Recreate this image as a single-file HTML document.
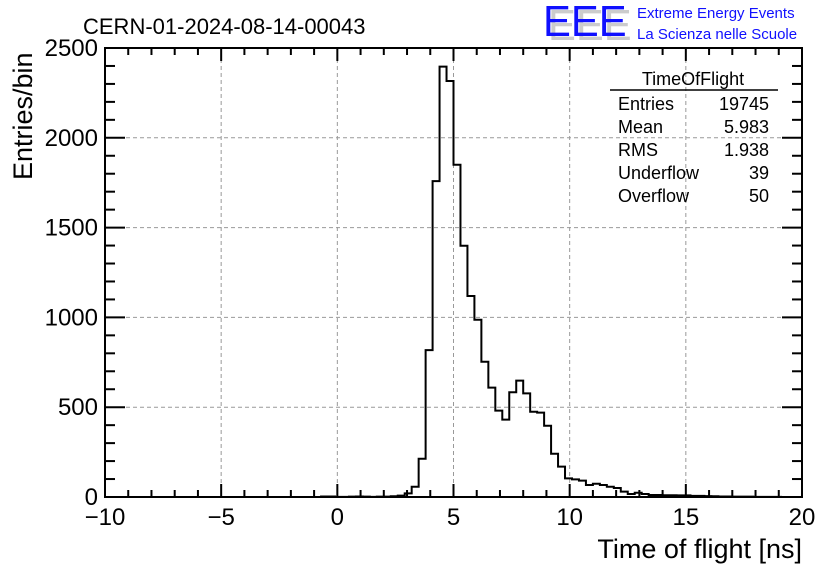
<!DOCTYPE html>
<html><head><meta charset="utf-8"><style>
body{margin:0;background:#fff}
svg{display:block;font-family:"Liberation Sans",sans-serif}
</style></head><body>
<svg id="c" width="836" height="572" xmlns="http://www.w3.org/2000/svg">
<rect width="836" height="572" fill="#fff"/>
<text x="83" y="34" font-size="22">CERN-01-2024-08-14-00043</text>
<g>
<text x="548" y="40" font-size="44" fill="#ccc" transform="translate(548,0) scale(0.95,1) translate(-548,0)">EEE</text>
<text x="543" y="36" font-size="44" fill="#1010ff" transform="translate(543,0) scale(0.95,1) translate(-543,0)">EEE</text>
<text x="637" y="18" font-size="15" fill="#1010ff">Extreme Energy Events</text>
<text x="637" y="39" font-size="15" fill="#1010ff">La Scienza nelle Scuole</text>
</g>
<g id="grid"></g><g id="ticks"></g>
<path id="hist" fill="none" stroke="#000" stroke-width="2"/>
<rect x="105" y="48" width="697" height="449" fill="none" stroke="#000" stroke-width="2"/>
<text x="802" y="558" font-size="27" text-anchor="end">Time of flight [ns]</text>
<text transform="translate(32,180) rotate(-90)" font-size="27">Entries/bin</text>
<g font-size="18">
<text x="693" y="85" text-anchor="middle">TimeOfFlight</text>
<line x1="610" y1="90" x2="778" y2="90" stroke="#000" stroke-width="1.5"/>
<text x="618" y="110">Entries</text><text x="769" y="110" text-anchor="end">19745</text>
<text x="618" y="133">Mean</text><text x="769" y="133" text-anchor="end">5.983</text>
<text x="618" y="156">RMS</text><text x="769" y="156" text-anchor="end">1.938</text>
<text x="618" y="179">Underflow</text><text x="769" y="179" text-anchor="end">39</text>
<text x="618" y="202">Overflow</text><text x="769" y="202" text-anchor="end">50</text>
</g>
</svg>
<script>
const binStart = -10;
const binWidth = 0.3;
const counts = [
0,0,0,0,0,0,0,0,0,0, 0,0,0,0,0,0,0,0,0,0, 0,0,0,0,0,0,0,
0,0,0,0,3,3,1,1,2,3, 2,1,2,2,4,8,20,57,213,818,
1759,2396,2316,1850,1399,1119,987,753,609,481, 431,583,648,577,475,470,397,241,169,104,
98,91,67,74,67,57,50,30,17,24, 17,11,11,10,10,9,9,6,6,5, 4,3,3,2,2,2,1,1,1,1,0,0,0];
const xTicks = [-10,-5,0,5,10,15,20];
const yTicks = [0,500,1000,1500,2000,2500];
const X0=105,X1=802,Y0=497,Y1=48,xmin=-10,xmax=20,ymax=2500;
const sx=v=>X0+(v-xmin)/(xmax-xmin)*(X1-X0);
const sy=v=>Y0-v/ymax*(Y0-Y1);
const NS="http://www.w3.org/2000/svg";
function mk(tag,attrs,parent){const e=document.createElementNS(NS,tag);for(const k in attrs)e.setAttribute(k,attrs[k]);parent.appendChild(e);return e;}
const grid=document.getElementById('grid'),tk=document.getElementById('ticks');
xTicks.forEach(v=>{
 if(v>xmin&&v<xmax){const l=mk('line',{x1:sx(v),x2:sx(v),y1:Y0,y2:Y1,stroke:'#999','stroke-dasharray':'4,3'},grid);
 
 }
 const t=mk('text',{x:sx(v),y:525,'font-size':24,'text-anchor':'middle'},tk);t.textContent=v===0?'0':(v<0?'\u2212'+(-v):v);
 
 
});
for(let v=xmin;v<=xmax;v++){const L=v%5===0?13:7;
 mk('line',{x1:sx(v),x2:sx(v),y1:Y0,y2:Y0-L,stroke:'#000','stroke-width':2},tk);
 mk('line',{x1:sx(v),x2:sx(v),y1:Y1,y2:Y1+L,stroke:'#000','stroke-width':2},tk);}
yTicks.forEach(v=>{
 if(v>0&&v<ymax){const l=mk('line',{x1:X0,x2:X1,y1:sy(v),y2:sy(v),stroke:'#999','stroke-dasharray':'4,3'},grid);
 
 }
 const t=mk('text',{x:98,y:sy(v)+8,'font-size':24,'text-anchor':'end'},tk);t.textContent=v;
 
 
});
for(let v=0;v<=ymax;v+=100){const L=v%500===0?20:10;
 mk('line',{x1:X0,x2:X0+L,y1:sy(v),y2:sy(v),stroke:'#000','stroke-width':2},tk);
 mk('line',{x1:X1,x2:X1-L,y1:sy(v),y2:sy(v),stroke:'#000','stroke-width':2},tk);}
let d='M'+sx(binStart)+','+sy(0);
counts.forEach((c,i)=>{const a=binStart+i*binWidth,b=a+binWidth;d+=' L'+sx(a)+','+sy(c)+' L'+sx(b)+','+sy(c);});
d+=' L'+sx(binStart+counts.length*binWidth)+','+sy(0);
document.getElementById('hist').setAttribute('d',d);
</script>
</body></html>
